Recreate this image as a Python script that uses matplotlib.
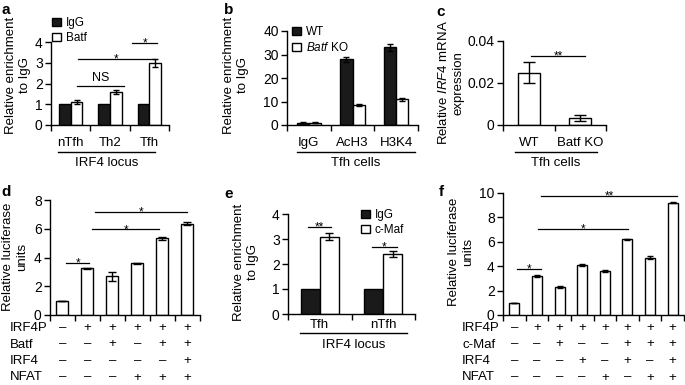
import numpy as np
import matplotlib
matplotlib.use('Agg')
import matplotlib.pyplot as plt
from matplotlib.patches import Patch
from matplotlib.transforms import ScaledTranslation

plt.rcParams['font.family'] = ['Liberation Sans', 'DejaVu Sans']
plt.rcParams['mathtext.fontset'] = 'custom'
plt.rcParams['mathtext.it'] = 'Liberation Sans:italic'
plt.rcParams['mathtext.rm'] = 'Liberation Sans'

W, H = 685, 385

# panel a
a_groups = ['nTfh', 'Th2', 'Tfh']
a_igg = [1, 1, 1]
a_batf = [1.1, 1.6, 3.0]
a_batf_err = [0.1, 0.1, 0.2]
a_sig = [(0.16, 1.36, 1.9, 'NS'), (0.19, 2.14, 3.2, '*'), (1.56, 2.2, 3.97, '*')]

# panel b
b_groups = ['IgG', 'AcH3', 'H3K4']
b_wt = [1, 28, 33]
b_wt_err = [0.2, 1.0, 1.5]
b_ko = [1, 8.5, 11]
b_ko_err = [0.2, 0.4, 0.6]

# panel c
c_groups = ['WT', 'Batf KO']
c_vals = [0.025, 0.0035]
c_err = [0.005, 0.0015]
c_sig = [(0.04, 1.1, 0.033, '**')]

# panel d
d_vals = [1, 3.25, 2.7, 3.6, 5.35, 6.35]
d_err = [0, 0.05, 0.3, 0.05, 0.1, 0.12]
d_rows = ['IRF4P', 'Batf', 'IRF4', 'NFAT']
d_table = ['-+++++', '--+-++', '-----+', '---+++']
d_sig = [(0.16, 1.05, 3.6, '*'), (1.2, 3.85, 5.95, '*'), (1.3, 4.98, 7.2, '*')]

# panel e
e_groups = ['Tfh', 'nTfh']
e_igg = [1, 1]
e_cmaf = [3.1, 2.42]
e_cmaf_err = [0.15, 0.12]
e_sig = [(-0.19, 0.17, 3.49, '**'), (0.82, 1.21, 2.69, '*')]

# panel f
f_vals = [1.0, 3.2, 2.3, 4.1, 3.6, 6.2, 4.7, 9.2]
f_err = [0, 0.08, 0.05, 0.06, 0.05, 0.06, 0.12, 0.06]
f_rows = ['IRF4P', 'c-Maf', 'IRF4', 'NFAT']
f_table = ['-+++++++', '--+--+++', '---+-+-+', '----+-++']
f_sig = [(0.13, 1.2, 3.77, '*'), (1.06, 5.04, 7.05, '*'), (1.2, 7.2, 9.75, '**')]

FS = 9.5
ekw = dict(elinewidth=1, capthick=1, ecolor='k')

fig = plt.figure(figsize=(W / 100, H / 100), dpi=100)


def add_ax(x0, x1, ytop, ybot):
    ax = fig.add_axes([x0 / W, 1 - ybot / H, (x1 - x0) / W, (ybot - ytop) / H])
    ax.spines[['top', 'right']].set_visible(False)
    ax.spines[['left', 'bottom']].set_linewidth(1.0)
    ax.tick_params(direction='out', length=4, width=1.0, labelsize=10, pad=2)
    ax.patch.set_visible(False)
    return ax


def below(ax, dy):
    return ax.get_xaxis_transform() + ScaledTranslation(0, -dy / 100, fig.dpi_scale_trans)


def cats(ax, names, dy):
    for i, g in enumerate(names):
        ax.text(i, 0, g, transform=below(ax, dy), ha='center', va='center', fontsize=FS)


def group(ax, x1, x2, name, dy_line, dy_text):
    ax.plot([x1, x2], [0, 0], transform=below(ax, dy_line), color='k', lw=1, clip_on=False)
    ax.text((x1 + x2) / 2, 0, name, transform=below(ax, dy_text), ha='center', va='center', fontsize=FS)


def sig(ax, items):
    for x1, x2, y, s in items:
        ax.plot([x1, x2], [y, y], color='k', lw=0.9, clip_on=False)
        if s == 'NS':
            ax.annotate(s, ((x1 + x2) / 2, y), xytext=(0, 1), textcoords='offset points',
                        ha='center', va='bottom', fontsize=9)
        else:
            ax.annotate(s, ((x1 + x2) / 2, y), xytext=(0, -2.5), textcoords='offset points',
                        ha='center', va='baseline', fontsize=8.5)


def table(ax, rows, marks, x_label):
    for r, (name, row) in enumerate(zip(rows, marks)):
        dy = 13 + r * 16.5
        fig.text(x_label / W, 1 - (315 + dy) / H, name, ha='left', va='center', fontsize=FS)
        for i, m in enumerate(row):
            ax.text(i, 0, '+' if m == '+' else '–', transform=below(ax, dy),
                    ha='center', va='center', fontsize=FS)


def legend(handles, labels, x, y):
    fig.legend(handles, labels, loc='upper left', bbox_to_anchor=(x / W, 1 - y / H),
               frameon=False, handlelength=0.75, handleheight=0.75, handletextpad=0.4,
               labelspacing=0.25, fontsize=8.5, borderpad=0, borderaxespad=0)


def ylab(text, x, y):
    fig.text(x / W, 1 - y / H, text, rotation=90, ha='center', va='center',
             multialignment='center', fontsize=FS, linespacing=1.25)


def plabel(s, x, y):
    fig.text(x / W, 1 - y / H, s, ha='center', va='center', fontsize=11, fontweight='bold')


black = Patch(facecolor='#1a1a1a', edgecolor='k', lw=1)
white = Patch(facecolor='w', edgecolor='k', lw=1)

# ---- a
ax = add_ax(51, 169, 42, 125)
x = np.arange(len(a_groups))
ax.bar(x - 0.15, a_igg, 0.3, color='#1a1a1a', edgecolor='k', lw=1)
ax.bar(x + 0.15, a_batf, 0.3, color='w', edgecolor='k', lw=1, yerr=a_batf_err, capsize=2.5, error_kw=ekw)
ax.set_xlim(-0.5, 2.5)
ax.set_ylim(0, 4)
ax.set_yticks([0, 1, 2, 3, 4])
ax.set_xticks([-0.5, 0.5, 1.5, 2.5], [])
cats(ax, a_groups, 18)
group(ax, -0.32, 2.14, 'IRF4 locus', 27, 38)
sig(ax, a_sig)
legend([black, white], ['IgG', 'Batf'], 52, 17)
ylab('Relative enrichment\nto IgG', 18, 75)
plabel('a', 6, 10)

# ---- b
ax = add_ax(287, 418, 31, 125)
x = np.arange(len(b_groups))
ax.bar(x - 0.14, b_wt, 0.28, color='#1a1a1a', edgecolor='k', lw=1, yerr=b_wt_err, capsize=2.5, error_kw=ekw)
ax.bar(x + 0.14, b_ko, 0.28, color='w', edgecolor='k', lw=1, yerr=b_ko_err, capsize=2.5, error_kw=ekw)
ax.set_xlim(-0.5, 2.5)
ax.set_ylim(0, 40)
ax.set_yticks([0, 10, 20, 30, 40])
ax.set_xticks([-0.5, 0.5, 1.5, 2.5], [])
cats(ax, b_groups, 18)
group(ax, -0.27, 2.43, 'Tfh cells', 27, 38)
legend([black, white], ['WT', r'$\mathit{Batf}$ KO'], 292, 26)
ylab('Relative enrichment\nto IgG', 236, 75)
plabel('b', 229, 10)

# ---- c
ax = add_ax(503, 606, 41, 125)
x = np.arange(len(c_groups))
ax.bar(x, c_vals, 0.43, color='w', edgecolor='k', lw=1, yerr=c_err, capsize=4, error_kw=ekw)
ax.set_xlim(-0.5, 1.5)
ax.set_ylim(0, 0.04)
ax.set_yticks([0, 0.02, 0.04], ['0', '0.02', '0.04'])
ax.set_xticks([-0.5, 0.5, 1.5], [])
cats(ax, c_groups, 18)
group(ax, -0.27, 1.32, 'Tfh cells', 27, 38)
sig(ax, c_sig)
ylab('Relative $\\mathit{IRF4}$ mRNA\nexpression', 451, 83)
plabel('c', 441, 12)

# ---- d
ax = add_ax(50, 200, 200, 315)
x = np.arange(len(d_vals))
ax.bar(x, d_vals, 0.48, color='w', edgecolor='k', lw=1, yerr=d_err, capsize=3, error_kw=ekw)
ax.set_xlim(-0.5, 5.5)
ax.set_ylim(0, 8)
ax.set_yticks([0, 2, 4, 6, 8])
ax.set_xticks(np.arange(-0.5, 6, 1), [])
sig(ax, d_sig)
table(ax, d_rows, d_table, 10)
ylab('Relative luciferase\nunits', 15, 257)
plabel('d', 6, 192)

# ---- e
ax = add_ax(288, 415, 214, 314)
x = np.arange(len(e_groups))
ax.bar(x - 0.15, e_igg, 0.3, color='#1a1a1a', edgecolor='k', lw=1)
ax.bar(x + 0.15, e_cmaf, 0.3, color='w', edgecolor='k', lw=1, yerr=e_cmaf_err, capsize=3, error_kw=ekw)
ax.set_xlim(-0.5, 1.5)
ax.set_ylim(0, 4)
ax.set_yticks([0, 1, 2, 3, 4])
ax.set_xticks([-0.5, 0.5, 1.5], [])
cats(ax, e_groups, 11)
group(ax, -0.31, 1.37, 'IRF4 locus', 19, 31)
sig(ax, e_sig)
legend([black, white], ['IgG', 'c-Maf'], 361, 209)
ylab('Relative enrichment\nto IgG', 246, 262)
plabel('e', 229, 194)

# ---- f
ax = add_ax(503, 684, 193, 315)
x = np.arange(len(f_vals))
ax.bar(x, f_vals, 0.44, color='w', edgecolor='k', lw=1, yerr=f_err, capsize=2.5, error_kw=ekw)
ax.set_xlim(-0.5, 7.5)
ax.set_ylim(0, 10)
ax.set_yticks([0, 2, 4, 6, 8, 10])
ax.set_xticks(np.arange(-0.5, 8, 1), [])
sig(ax, f_sig)
table(ax, f_rows, f_table, 462)
ylab('Relative luciferase\nunits', 461, 252)
plabel('f', 441, 192)

fig.savefig('out.png', dpi=100)
